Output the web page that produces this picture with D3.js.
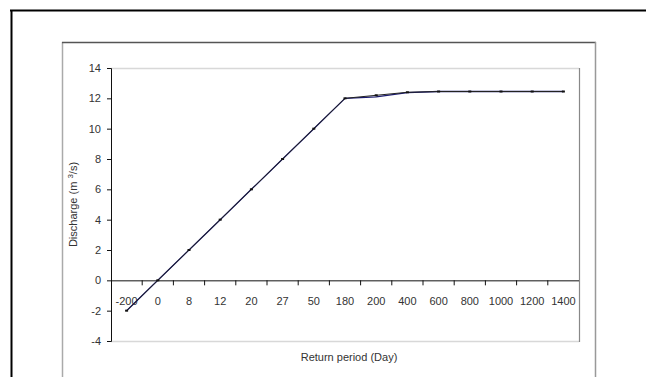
<!DOCTYPE html>
<html>
<head>
<meta charset="utf-8">
<script src="https://cdn.jsdelivr.net/npm/d3@7"></script>
<style>
  html, body { margin: 0; padding: 0; background: #fff; }
  svg { display: block; }
  text { font-family: "Liberation Sans", Arial, sans-serif; fill: #333; }
</style>
</head>
<body>
<svg id="chart" width="646" height="377"></svg>
<script>
// ---- data ----
const categories = ["-200", "0", "8", "12", "20", "27", "50", "180", "200", "400", "600", "800", "1000", "1200", "1400"];
const dischargeA = [-2, 0, 2, 4, 6, 8, 10, 12, 12.2, 12.4, 12.45, 12.45, 12.45, 12.45, 12.45];
const dischargeB = [-2, 0, 2, 4, 6, 8, 10, 12, 12.1, 12.38, 12.45, 12.45, 12.45, 12.45, 12.45];
const yTicks = [-4, -2, 0, 2, 4, 6, 8, 10, 12, 14];
const xTitle = "Return period (Day)";

const svg = d3.select("#chart");
const W = 646, H = 377;
const plot = { left: 111, right: 579, top: 68, bottom: 341 };
const sx = 1.0;
const fs = "11px";

// outer frame
svg.append("line").attr("x1", 10).attr("x2", W).attr("y1", 10.5).attr("y2", 10.5)
  .attr("stroke", "#000").attr("stroke-width", 2);
svg.append("line").attr("x1", 11.5).attr("x2", 11.5).attr("y1", 10).attr("y2", H)
  .attr("stroke", "#000").attr("stroke-width", 2);

// chart area box
svg.append("line").attr("x1", 62.5).attr("x2", 62.5).attr("y1", 42).attr("y2", H)
  .attr("stroke", "#aaa").attr("stroke-width", 1.5);
svg.append("line").attr("x1", 62).attr("x2", 596).attr("y1", 42.5).attr("y2", 42.5)
  .attr("stroke", "#555").attr("stroke-width", 1.5);
svg.append("line").attr("x1", 595.5).attr("x2", 595.5).attr("y1", 42).attr("y2", H)
  .attr("stroke", "#999").attr("stroke-width", 1.5);

// scales
const x = d3.scaleBand().domain(categories).range([plot.left, plot.right]).padding(0);
const y = d3.scaleLinear().domain([-4, 14]).range([plot.bottom, plot.top]);

// plot area border
svg.append("line").attr("x1", plot.left).attr("x2", plot.right).attr("y1", plot.top + 0.5).attr("y2", plot.top + 0.5)
  .attr("stroke", "#d8d8d8").attr("stroke-width", 1.5);
svg.append("line").attr("x1", plot.left).attr("x2", plot.right).attr("y1", plot.bottom + 0.5).attr("y2", plot.bottom + 0.5)
  .attr("stroke", "#d8d8d8").attr("stroke-width", 1.5);
svg.append("line").attr("x1", plot.right + 0.5).attr("x2", plot.right + 0.5).attr("y1", plot.top).attr("y2", plot.bottom + 1)
  .attr("stroke", "#888").attr("stroke-width", 1.2);

// y axis
const yAxis = svg.append("g").attr("transform", `translate(${plot.left},0)`)
  .call(d3.axisLeft(y).tickValues(yTicks).tickSize(4).tickPadding(6).tickFormat(d => String(d)));
yAxis.select(".domain").attr("stroke", "#111").attr("stroke-width", 1);
yAxis.selectAll(".tick line").attr("stroke", "#111");
yAxis.selectAll(".tick text")
  .style("font-size", fs).attr("fill", "#333")
  .attr("x", -10 / sx).attr("transform", `scale(${sx},1)`);

// x axis at y = 0
const xAxis = svg.append("g").attr("transform", `translate(0,${y(0)})`)
  .call(d3.axisBottom(x).tickSize(0).tickPadding(17));
xAxis.select(".domain").attr("stroke", "#111").attr("stroke-width", 1)
  .attr("d", `M${plot.left},0.5H${plot.right}`);
xAxis.selectAll(".tick text")
  .style("font-size", fs).attr("fill", "#333")
  .attr("transform", `scale(${sx},1)`);
// boundary tick marks between categories
const bounds = categories.slice(1).map(c => x(c));
xAxis.selectAll(".bound").data(bounds).join("line").attr("class", "bound")
  .attr("x1", d => d).attr("x2", d => d).attr("y1", 0).attr("y2", 5)
  .attr("stroke", "#111");

// lines
const line = d3.line().x((d, i) => x(categories[i]) + x.bandwidth() / 2).y(d => y(d));
svg.append("path").datum(dischargeB).attr("d", line)
  .attr("fill", "none").attr("stroke", "#1a1a70").attr("stroke-width", 1.3);
svg.append("path").datum(dischargeA).attr("d", line)
  .attr("fill", "none").attr("stroke", "#222").attr("stroke-width", 1);
svg.selectAll(".mk").data(dischargeA).join("rect").attr("class", "mk")
  .attr("x", (d, i) => x(categories[i]) + x.bandwidth() / 2 - 1.5)
  .attr("y", d => y(d) - 1)
  .attr("width", 3).attr("height", 2).attr("fill", "#111");

// axis titles
svg.append("text")
  .attr("transform", `translate(77,${(plot.top + plot.bottom) / 2}) rotate(-90)`)
  .attr("text-anchor", "middle").style("font-size", fs).attr("fill", "#333")
  .html('Discharge (m <tspan dy="-4" font-size="8px">3</tspan><tspan dy="4">/s)</tspan>');

svg.append("text")
  .attr("transform", `translate(${(plot.left + plot.right) / 2 + 4},361)`)
  .attr("text-anchor", "middle").style("font-size", fs).attr("fill", "#333")
  .text(xTitle);
</script>
</body>
</html>
